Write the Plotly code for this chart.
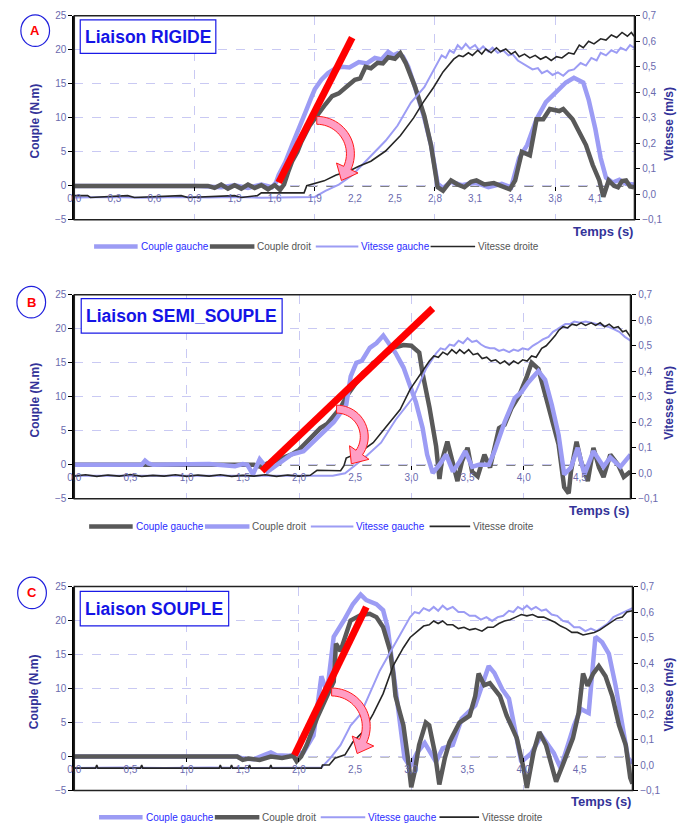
import numpy as np
import plotly.graph_objects as go

W, H = 678, 833
FONT = "Liberation Sans, Arial, sans-serif"
LB = "#9c9cf4"      # light blue (periwinkle)
DG = "#595959"      # dark grey thick
BK = "#262626"      # thin black
TICK = "#6a6aae"
TITLE = "#333399"
GRID = "#c9c9f3"
BLUE_TXT = "#2b2bff"
GREY_TXT = "#555555"

# ---------------- DATA ----------------
# Panel A : Liaison RIGIDE
tA_cg = [0, 0.3, 0.6, 0.9, 1.1, 1.2, 1.3, 1.4, 1.48, 1.51, 1.53, 1.58, 1.63, 1.68, 1.73, 1.77, 1.80, 1.85, 1.90,
         1.95, 2.0, 2.06, 2.13, 2.19, 2.25, 2.30, 2.35, 2.39, 2.42, 2.46, 2.50, 2.55, 2.62, 2.67, 2.72, 2.76, 2.82,
         2.9, 3.0, 3.1, 3.2, 3.27, 3.33, 3.39, 3.46, 3.53, 3.61, 3.68, 3.74, 3.81, 3.85, 3.90, 3.94, 3.98, 4.03,
         4.08, 4.13, 4.19]
vA_cg = [0, 0, 0, 0, -0.2, 0.1, -0.3, 0.2, -0.2, 0.5, 1.6, 3.5, 6.0, 8.2, 10.8, 12.8, 14.2, 15.6, 16.6,
         17.2, 17.5, 17.4, 18.2, 18.0, 18.8, 18.6, 19.7, 19.2, 19.5, 19.0, 17.5, 14.5, 10.0, 6.0, 0.3, -0.3, 0.6,
         0.1, 0.5, -0.2, 0.3, -0.2, 4.1, 6.0, 9.8, 12.3, 13.8, 15.2, 15.9, 15.2, 12.7, 8.4, 4.1, 1.2, 0.5,
         0.9, 0.3, 0.2]
tA_cd = [0, 0.2, 0.4, 0.6, 0.8, 1.0, 1.05, 1.1, 1.15, 1.2, 1.25, 1.3, 1.35, 1.4, 1.45, 1.5, 1.54, 1.57, 1.60,
         1.63, 1.67, 1.70, 1.76, 1.83, 1.88, 1.93, 1.98, 2.04, 2.10, 2.14, 2.18, 2.22, 2.27, 2.31, 2.35, 2.40,
         2.44, 2.48, 2.55, 2.62, 2.67, 2.72, 2.76, 2.82, 2.87, 2.92, 2.97, 3.01, 3.07, 3.14, 3.20, 3.26, 3.30,
         3.35, 3.41, 3.46, 3.51, 3.56, 3.63, 3.66, 3.73, 3.77, 3.83, 3.88, 3.93, 3.96, 4.00, 4.04, 4.07, 4.10,
         4.13, 4.16, 4.19]
vA_cd = [0, 0, 0, 0, 0, 0, -0.3, 0.2, -0.4, 0.1, -0.4, 0.2, -0.3, 0.1, -0.5, 0.1, -0.6, 0.2, 2.0,
         3.6, 5.0, 6.5, 8.8, 10.8, 12.0, 13.2, 13.6, 14.6, 15.6, 15.8, 17.5, 17.3, 18.1, 18.0, 18.9, 18.7,
         19.5, 18.1, 14.6, 10.3, 6.0, -0.2, -0.7, 0.8, 0.2, -0.2, 0.6, 0.8, 0.2, 0.4, -0.1, -0.5, 0.8,
         5.0, 4.5, 9.8, 9.8, 11.3, 11.0, 11.3, 9.8, 8.4, 6.0, 3.1, 0.8, -1.6, 0.8, 0.0, -0.2, 0.7,
         0.8, -0.1, -0.2]
tA_vg = [0, 0.3, 0.5, 0.8, 1.0, 1.2, 1.4, 1.6, 1.8, 1.88, 1.98, 2.08, 2.20, 2.33, 2.42, 2.52, 2.62,
         2.72, 2.75, 2.78, 2.81, 2.84, 2.87, 2.90, 2.93, 2.96, 3.00, 3.03, 3.06, 3.10, 3.13, 3.17, 3.21, 3.25,
         3.28, 3.32, 3.35, 3.39, 3.43, 3.47, 3.50, 3.54, 3.58, 3.62, 3.66, 3.70, 3.74, 3.79, 3.83, 3.87, 3.91,
         3.94, 3.98, 4.02, 4.06, 4.09, 4.13, 4.16, 4.19]
sA_vg = [-0.012, -0.01, -0.013, -0.01, -0.012, -0.01, -0.013, -0.012, -0.01, 0.014, 0.038, 0.075, 0.14, 0.21,
         0.27, 0.36, 0.42,
         0.52, 0.545, 0.535, 0.565, 0.555, 0.585, 0.57, 0.59, 0.572, 0.585, 0.565, 0.58, 0.56, 0.575, 0.555,
         0.565, 0.545, 0.55, 0.525, 0.515, 0.505, 0.49, 0.495, 0.475, 0.485, 0.468, 0.478, 0.465, 0.485, 0.49,
         0.515, 0.505, 0.535, 0.525, 0.555, 0.545, 0.565, 0.555, 0.575, 0.565, 0.585, 0.575]
tA_vd = [0, 0.1, 0.12, 0.4, 0.45, 0.8, 0.85, 1.2, 1.25, 1.37, 1.40, 1.72, 1.74, 1.87, 1.96, 2.05, 2.13, 2.22,
         2.33, 2.44, 2.54, 2.61, 2.69, 2.76,
         2.84, 2.88, 2.91, 2.95, 2.98, 3.02, 3.05, 3.08, 3.12, 3.16, 3.19, 3.23, 3.27, 3.30, 3.33, 3.37, 3.41,
         3.45, 3.49, 3.53, 3.57, 3.61, 3.65, 3.70, 3.74, 3.78, 3.81, 3.85, 3.89, 3.94, 3.98, 4.02, 4.06, 4.10,
         4.14, 4.17, 4.19]
sA_vd = [-0.005, -0.005, -0.012, -0.005, -0.012, -0.005, -0.012, -0.005, -0.012, -0.005, 0.006, 0.006, 0.034,
         0.053, 0.076, 0.09, 0.11, 0.13, 0.17, 0.23, 0.30, 0.36, 0.42, 0.48,
         0.53, 0.545, 0.54, 0.555, 0.545, 0.565, 0.55, 0.57, 0.555, 0.575, 0.56, 0.57, 0.55, 0.56, 0.54, 0.55,
         0.535, 0.545, 0.53, 0.54, 0.525, 0.54, 0.535, 0.555, 0.55, 0.585, 0.575, 0.6, 0.59, 0.61, 0.605, 0.625,
         0.615, 0.635, 0.62, 0.635, 0.62]
ticks_A = ["0,0", "0,3", "0,6", "0,9", "1,3", "1,6", "1,9", "2,2", "2,5", "2,8", "3,1", "3,4", "3,8", "4,1"]

# Panel B : Liaison SEMI_SOUPLE
tB_cg = [0, 0.5, 1.0, 1.5, 1.6, 1.66, 1.72, 1.78, 1.85, 1.93, 2.0, 2.07, 2.13, 2.19, 2.25, 2.31, 2.37, 2.42,
         2.48, 2.57, 2.62, 2.66, 2.71, 2.75, 2.80, 2.84, 2.93, 3.0, 3.07, 3.10, 3.16, 3.22, 3.25, 3.27, 3.32,
         3.36, 3.41, 3.45, 3.50, 3.54, 3.59, 3.65, 3.70, 3.78, 3.83, 3.89, 3.96, 4.03, 4.07, 4.13, 4.19, 4.25,
         4.31, 4.36, 4.40, 4.42, 4.47, 4.51, 4.57, 4.62, 4.67, 4.71, 4.77, 4.84, 4.89, 4.95]
vB_cg = [0, 0, 0, 0, 0, -0.3, 0.2, 0.5, 0.9, 1.5, 2.2, 3.4, 4.2, 5.4, 6.0, 7.3, 8.4, 10.0,
         11.5, 13.5, 14.0, 15.0, 15.3, 16.0, 16.6, 17.2, 17.6, 17.5, 16.5, 13.4, 8.5, 2.7, -2.1, 0.5, 3.4,
         0.5, -2.4, 0.5, 2.5, -1.0, -1.7, 1.5, -0.4, 5.4, 5.9, 8.3, 10.2, 13.1, 15.0, 14.1, 10.2, 6.9,
         3.0, -3.3, -4.2, -1.0, 3.4, 0.5, -2.4, 2.5, -0.4, -1.8, 1.5, 0.0, -1.8, -1.0]
tB_cd = [0, 0.3, 0.6, 0.63, 0.66, 0.7, 1.0, 1.2, 1.43, 1.50, 1.54, 1.59, 1.65, 1.69, 1.72, 1.81, 1.93, 2.04,
         2.16, 2.31, 2.42, 2.46, 2.51, 2.56, 2.63, 2.69, 2.75, 2.81, 2.86, 2.93, 2.99, 3.04, 3.10, 3.14, 3.19,
         3.25, 3.31, 3.37, 3.43, 3.48, 3.54, 3.60, 3.69, 3.74, 3.83, 3.92, 3.98, 4.04, 4.13, 4.19, 4.25, 4.31,
         4.36, 4.42, 4.48, 4.54, 4.62, 4.71, 4.77, 4.86, 4.95]
vB_cd = [0, 0, 0, 0.6, 0.2, 0, 0, 0.1, -0.2, 0.1, 0, -1.4, 0.8, 0, -1.0, 0, 1.5, 2.0,
         4.0, 6.3, 8.8, 13.0, 15.0, 15.3, 17.2, 17.9, 19.0, 17.5, 16.4, 14.3, 11.6, 9.2, 5.4, 1.5, -1.2,
         0, 1.5, -1.0, 0.5, 2.0, -0.3, 0, 0, 2.0, 6.3, 9.8, 10.7, 12.1, 13.8, 12.5, 8.8, 4.4,
         -1.4, -0.4, 2.5, -1.4, 2.0, -0.3, 1.1, -0.3, 1.5]
tB_vg = [0, 0.5, 1.0, 1.5, 2.0, 2.3, 2.41, 2.50, 2.58, 2.73, 2.86, 3.02, 3.13,
         3.22, 3.26, 3.30, 3.34, 3.38, 3.42, 3.46, 3.50, 3.54, 3.58, 3.62, 3.66, 3.70, 3.74, 3.78, 3.82, 3.87,
         3.91, 3.95, 3.99, 4.04, 4.08, 4.12, 4.17, 4.22, 4.26, 4.30, 4.33, 4.37, 4.41, 4.45, 4.50, 4.55, 4.60,
         4.65, 4.70, 4.75, 4.80, 4.85, 4.90, 4.95]
sB_vg = [-0.01, -0.01, -0.01, -0.01, -0.01, -0.01, 0.0, 0.03, 0.06, 0.12, 0.21, 0.30, 0.41,
         0.47, 0.49, 0.485, 0.505, 0.5, 0.52, 0.51, 0.53, 0.515, 0.52, 0.505, 0.495, 0.49, 0.49, 0.48, 0.485,
         0.475, 0.485, 0.48, 0.49, 0.485, 0.5, 0.51, 0.525, 0.535, 0.555, 0.565, 0.575, 0.585, 0.585, 0.595,
         0.59, 0.595, 0.59, 0.585, 0.58, 0.575, 0.565, 0.555, 0.535, 0.52]
tB_vd = [0, 0.1, 0.2, 0.3, 0.4, 0.5, 0.6, 0.7, 0.8, 0.9, 1.0, 1.1, 1.2, 1.3, 1.4, 1.5, 1.6, 1.7, 1.8, 1.9, 2.0,
         2.1, 2.16, 2.37, 2.40, 2.42, 2.55, 2.66, 2.77, 2.90, 2.99, 3.08,
         3.16, 3.20, 3.24, 3.28, 3.32, 3.36, 3.40, 3.43, 3.47, 3.51, 3.55, 3.59, 3.63, 3.67, 3.71, 3.75, 3.79,
         3.83, 3.87, 3.91, 3.95, 3.99, 4.03, 4.07, 4.11, 4.16, 4.20, 4.24, 4.28, 4.31, 4.35, 4.39, 4.43, 4.47,
         4.51, 4.55, 4.60, 4.64, 4.68, 4.72, 4.76, 4.80, 4.84, 4.88, 4.91, 4.95]
sB_vd = [-0.011, -0.006, -0.012, -0.007, -0.011, -0.005, -0.012, -0.008, -0.011, -0.006, -0.012, -0.007,
         -0.011, -0.006, -0.012, -0.008, -0.011, -0.006, -0.012, -0.007, -0.011, -0.008, 0.012, 0.010, 0.03,
         0.06, 0.085, 0.12, 0.18, 0.25, 0.33, 0.39,
         0.44, 0.46, 0.455, 0.475, 0.465, 0.485, 0.47, 0.485, 0.47, 0.485, 0.465, 0.47, 0.45, 0.455, 0.44,
         0.445, 0.43, 0.44, 0.425, 0.44, 0.43, 0.445, 0.44, 0.46, 0.455, 0.49, 0.5, 0.52, 0.54, 0.56, 0.575,
         0.57, 0.585, 0.58, 0.59, 0.58, 0.59, 0.58, 0.59, 0.575, 0.585, 0.57, 0.575, 0.555, 0.56, 0.535]
ticks_BC = ["0,0", "0,5", "1,0", "1,5", "2,0", "2,5", "3,0", "3,5", "4,0", "4,5"]

# Panel C : Liaison SOUPLE
tC_cg = [0, 0.5, 1.0, 1.45, 1.5, 1.6, 1.7, 1.75, 1.8, 1.9, 1.97, 2.04, 2.13, 2.20, 2.25, 2.31, 2.40, 2.48,
         2.55, 2.60, 2.69, 2.75, 2.79, 2.82, 2.85, 2.90, 2.94, 2.99, 3.05, 3.12, 3.18, 3.22, 3.28, 3.37, 3.45,
         3.57, 3.63, 3.69, 3.74, 3.81, 3.87, 3.92, 3.98, 4.07, 4.16, 4.27, 4.33, 4.45, 4.51, 4.58, 4.62, 4.64,
         4.70, 4.76, 4.82, 4.88, 4.93, 4.97]
vC_cg = [0, 0, 0, 0, -0.3, -0.4, 0.3, 0.6, 0.2, 0.1, 0.3, 0.6, 3.1, 11.8, 9.4, 17.6, 20.0, 22.4,
         23.8, 23.0, 22.4, 21.5, 19.0, 15.1, 10.4, 4.6, -0.2, -1.5, 0.5, 2.0, 0.5, -0.8, 1.2, 1.7, 5.6,
         7.5, 10.4, 13.3, 12.3, 9.9, 8.5, 4.1, -0.8, 0.5, 3.1, 0.5, -1.7, 4.6, 7.0, 6.4, 15.1, 17.6,
         16.8, 15.1, 10.4, 4.6, -0.2, -1.0]
tC_cd = [0, 0.5, 1.0, 1.45, 1.5, 1.55, 1.65, 1.75, 1.85, 1.95, 1.98, 2.02, 2.07, 2.16, 2.25, 2.31, 2.33, 2.37,
         2.46, 2.55, 2.63, 2.69, 2.75, 2.81, 2.84, 2.86, 2.90, 2.93, 2.97, 3.0, 3.03, 3.07, 3.13, 3.16, 3.21,
         3.25, 3.30, 3.34, 3.37, 3.43, 3.52, 3.57, 3.60, 3.65, 3.70, 3.79, 3.85, 3.94, 4.0, 4.03, 4.09, 4.14,
         4.20, 4.29, 4.35, 4.44, 4.49, 4.53, 4.57, 4.62, 4.67, 4.73, 4.79, 4.85, 4.91, 4.95, 4.97]
vC_cd = [0, 0, 0, 0, -0.5, -0.3, -0.5, 0, -0.2, 0.1, -0.7, 0, 1.7, 5.6, 8.9, 11.0, 16.6, 15.5,
         20.0, 20.8, 21.0, 20.5, 19.0, 15.7, 12.2, 8.9, 6.4, 4.6, -0.2, -4.5, -2.3, 1.7, 5.0, 4.6, 0.6,
         -4.1, -0.2, 2.1, 3.1, 5.0, 6.0, 8.9, 12.2, 10.5, 10.8, 8.9, 6.0, 2.7, -1.7, -4.6, 0.7, 3.6,
         1.7, -3.7, -1.2, 2.7, 6.4, 12.2, 10.4, 12.2, 13.3, 11.8, 8.9, 4.6, 1.7, -3.1, -4.0]
tC_vg = [0, 0.4, 0.8, 1.2, 1.6, 2.0, 2.20, 2.28, 2.37, 2.46, 2.55, 2.63, 2.72, 2.81, 2.90,
         2.99, 3.03, 3.07, 3.11, 3.16, 3.20, 3.24, 3.28, 3.32, 3.37, 3.42, 3.47, 3.52, 3.57, 3.62, 3.67, 3.72,
         3.77, 3.82, 3.87, 3.91, 3.95, 3.99, 4.03, 4.07, 4.11, 4.16, 4.20, 4.25, 4.30, 4.35, 4.40, 4.45, 4.50,
         4.55, 4.60, 4.65, 4.70, 4.75, 4.80, 4.85, 4.90, 4.93, 4.97]
sC_vg = [-0.012, -0.01, -0.012, -0.01, -0.012, -0.01, -0.01, 0.027, 0.078, 0.155, 0.2, 0.28, 0.37, 0.44, 0.51,
         0.58, 0.6, 0.595, 0.615, 0.605, 0.62, 0.605, 0.625, 0.61, 0.62, 0.6, 0.6, 0.585, 0.585, 0.57, 0.58,
         0.565, 0.58, 0.585, 0.605, 0.6, 0.62, 0.61, 0.625, 0.61, 0.62, 0.605, 0.61, 0.59, 0.585, 0.565, 0.56,
         0.54, 0.54, 0.525, 0.535, 0.525, 0.54, 0.555, 0.58, 0.59, 0.6, 0.605, 0.615]
tC_vd = [0, 0.19, 0.2, 0.21, 0.59, 0.6, 0.61, 1.29, 1.3, 1.31, 1.39, 1.4, 1.41, 1.55, 1.56, 1.57, 1.74, 1.75,
         1.76, 2.20, 2.21, 2.27, 2.32, 2.41, 2.48, 2.57, 2.66, 2.75, 2.84, 2.93, 2.99,
         3.07, 3.11, 3.16, 3.20, 3.24, 3.28, 3.32, 3.37, 3.42, 3.47, 3.52, 3.57, 3.63, 3.68, 3.73, 3.78, 3.83,
         3.88, 3.93, 3.98, 4.03, 4.08, 4.13, 4.18, 4.23, 4.28, 4.33, 4.38, 4.43, 4.48, 4.53, 4.58, 4.63, 4.68,
         4.73, 4.78, 4.83, 4.88, 4.92, 4.97]
sC_vd = [-0.012, -0.012, 0.0, -0.012, -0.012, 0.0, -0.012, -0.012, 0.0, -0.012, -0.012, 0.0, -0.012, -0.012,
         0.0, -0.012, -0.012, 0.0, -0.012, -0.012, 0.0, 0.0, 0.027, 0.04, 0.09, 0.13, 0.2, 0.28, 0.39, 0.46,
         0.5,
         0.53, 0.545, 0.55, 0.565, 0.555, 0.565, 0.55, 0.55, 0.535, 0.54, 0.53, 0.535, 0.525, 0.54, 0.54, 0.555,
         0.565, 0.57, 0.58, 0.59, 0.585, 0.59, 0.58, 0.58, 0.57, 0.56, 0.545, 0.535, 0.52, 0.52, 0.51, 0.515,
         0.52, 0.53, 0.545, 0.56, 0.575, 0.58, 0.6, 0.605]

# ---------------- helpers ----------------
def fx(x):
    return x / W


def fy(y):
    return 1 - y / H


panels = [
    dict(key="A", title="Liaison RIGIDE", xs="", ys="", ys2="2",
         left=68, right=634, top=10, bot=217, xmax=4.193,
         tickvals=[0.3 * i for i in range(14)], ticktext=ticks_A, grid=[0.9, 1.8, 2.7, 3.6],
         box=(74, 14, 211, 48), circ=(28.5, 25), legy=244, temps=229,
         leg=[(88, 132), (205, 250), (312, 355), (428, 473)],
         red=((1.53, 0.5), (2.08, 21.8)), arrow=(313, 150, 34, 25),
         series=[("Couple gauche", tA_cg, vA_cg, False, LB, 4.5, BLUE_TXT),
                 ("Couple droit", tA_cd, vA_cd, False, DG, 4.5, GREY_TXT),
                 ("Vitesse gauche", tA_vg, sA_vg, True, LB, 2.0, BLUE_TXT),
                 ("Vitesse droite", tA_vd, sA_vd, True, BK, 1.6, GREY_TXT)]),
    dict(key="B", title="Liaison SEMI_SOUPLE", xs="2", ys="3", ys2="4",
         left=68, right=630, top=293, bot=500, xmax=4.95,
         tickvals=[0.5 * i for i in range(10)], ticktext=ticks_BC, grid=[1, 2, 3, 4],
         box=(75, 297, 278, 332), circ=(24.5, 300.5), legy=528, temps=512,
         leg=[(83, 127), (200, 245), (307, 350), (427, 468)],
         red=((1.67, -0.9), (3.19, 23.0)), arrow=(333, 437, 28, 35),
         series=[("Couple gauche", tB_cg, vB_cg, False, DG, 4.5, BLUE_TXT),
                 ("Couple droit", tB_cd, vB_cd, False, LB, 4.5, GREY_TXT),
                 ("Vitesse gauche", tB_vg, sB_vg, True, LB, 2.0, BLUE_TXT),
                 ("Vitesse droite", tB_vd, sB_vd, True, BK, 1.6, GREY_TXT)]),
    dict(key="C", title="Liaison SOUPLE", xs="3", ys="5", ys2="6",
         left=68, right=632, top=589, bot=796, xmax=4.97,
         tickvals=[0.5 * i for i in range(10)], ticktext=ticks_BC, grid=[1, 2, 3, 4],
         box=(74, 594, 224, 629), circ=(25.3, 595.5), legy=823, temps=807,
         leg=[(93, 137), (210, 255), (317, 362), (437, 477)],
         red=((1.96, 0.2), (2.60, 22.0)), arrow=(328, 731, 35, 25),
         series=[("Couple gauche", tC_cg, vC_cg, False, LB, 4.5, BLUE_TXT),
                 ("Couple droit", tC_cd, vC_cd, False, DG, 4.5, GREY_TXT),
                 ("Vitesse gauche", tC_vg, sC_vg, True, LB, 2.0, BLUE_TXT),
                 ("Vitesse droite", tC_vd, sC_vd, True, BK, 1.6, GREY_TXT)]),
]


def arrow_path(cx, cy, rm, a1, half=4.0, head_len=14.0, head_half=12.0, a0=-90.0):
    angs = np.radians(np.linspace(a0, a1, 24))
    outer = [(cx + (rm + half) * np.cos(a), cy + (rm + half) * np.sin(a)) for a in angs]
    inner = [(cx + (rm - half) * np.cos(a), cy + (rm - half) * np.sin(a)) for a in angs[::-1]]
    ae = angs[-1]
    tx, ty = -np.sin(ae), np.cos(ae)
    mx, my = cx + rm * np.cos(ae), cy + rm * np.sin(ae)
    head = [(cx + (rm + head_half) * np.cos(ae), cy + (rm + head_half) * np.sin(ae)),
            (mx + head_len * tx, my + head_len * ty),
            (cx + (rm - head_half) * np.cos(ae), cy + (rm - head_half) * np.sin(ae))]
    pts = outer + head + inner
    return "M " + " L ".join(f"{fx(x):.5f},{fy(y):.5f}" for x, y in pts) + " Z"


fig = go.Figure()
layout = dict(width=W, height=H, margin=dict(l=0, r=0, t=0, b=0), paper_bgcolor="white",
              plot_bgcolor="rgba(0,0,0,0)", separators=", ", showlegend=False,
              font=dict(family=FONT, size=10, color=TICK))
shapes, annotations = [], []

for p in panels:
    xn, yn, y2n = "x" + p["xs"], "y" + p["ys"], "y" + p["ys2"]
    ydom = [fy(p["bot"]), fy(p["top"])]
    zero_pos = ydom[0] + (ydom[1] - ydom[0]) * 5 / 30
    layout["xaxis" + p["xs"]] = dict(
        domain=[fx(p["left"]), fx(p["right"])], range=[0, p["xmax"]], anchor="free", position=zero_pos,
        tickmode="array", tickvals=p["tickvals"], ticktext=p["ticktext"], ticks="", showgrid=False,
        zeroline=False, showline=False, ticklabelstandoff=5,
        tickfont=dict(size=10, color=TICK, family=FONT),
        minor=dict(tickmode="array", tickvals=p["grid"], showgrid=True, gridcolor=GRID, griddash="dash",
                   gridwidth=1, ticks="outside", ticklen=4, tickcolor="black"))
    layout["yaxis" + p["ys"]] = dict(
        domain=ydom, range=[-5, 25], anchor=xn, tickmode="linear", tick0=-5, dtick=5, ticks="outside",
        ticklen=4, tickcolor="black", showline=True, linecolor="black", linewidth=2, showgrid=True,
        gridcolor=GRID, griddash="dash", zeroline=False, tickfont=dict(size=10, color=TICK, family=FONT))
    layout["yaxis" + p["ys2"]] = dict(
        overlaying=yn, side="right", anchor=xn, range=[-0.1, 0.7], tickmode="linear", tick0=0, dtick=0.1,
        tickformat=".1f", ticks="outside", ticklen=4, tickcolor="black", showline=True, linecolor="black",
        linewidth=1.5, showgrid=False, zeroline=False, tickfont=dict(size=10, color=TICK, family=FONT))

    for name, t, v, sec, col, wdt, tcol in p["series"]:
        fig.add_trace(go.Scatter(x=t, y=v, mode="lines", name=name, xaxis=xn,
                                 yaxis=y2n if sec else yn,
                                 line=dict(color=col, width=wdt), hoverinfo="skip"))

    # legend drawn below the plot (line sample + coloured label)
    for (lx0, lx1), (name, t, v, sec, col, wdt, tcol) in zip(p["leg"], p["series"]):
        shapes.append(dict(type="line", xref="paper", yref="paper", x0=fx(lx0), x1=fx(lx1),
                           y0=fy(p["legy"]), y1=fy(p["legy"]), line=dict(color=col, width=wdt)))
        annotations.append(dict(xref="paper", yref="paper", x=fx(lx1 + 1), y=fy(p["legy"]), text=name,
                                showarrow=False, xanchor="left", yanchor="middle",
                                font=dict(size=10, color=tcol, family=FONT)))

    # dashed zero line
    shapes.append(dict(type="line", xref=f"{xn} domain", yref=yn, x0=0, x1=1, y0=0, y1=0,
                       line=dict(color="black", width=1.2, dash="dash"), layer="below"))
    # frame
    shapes.append(dict(type="rect", xref=f"{xn} domain", yref=f"{yn} domain", x0=0, x1=1, y0=0, y1=1,
                       line=dict(color="#222222", width=1.5), layer="above"))
    # red trend line
    (x0, y0), (x1, y1) = p["red"]
    shapes.append(dict(type="line", xref=xn, yref=yn, x0=x0, y0=y0, x1=x1, y1=y1,
                       line=dict(color="#ff0000", width=7), layer="above"))
    # pink curved arrow
    cx, cy, rm, a1 = p["arrow"]
    shapes.append(dict(type="path", xref="paper", yref="paper", path=arrow_path(cx, cy, rm, a1),
                       fillcolor="#ff9ec4", line=dict(color="#ff1a1a", width=1), layer="above"))
    # title box
    bx0, by0, bx1, by1 = p["box"]
    shapes.append(dict(type="rect", xref="paper", yref="paper", x0=fx(bx0), x1=fx(bx1), y0=fy(by1), y1=fy(by0),
                       fillcolor="white", line=dict(color="#1a1ae6", width=1.2), layer="above"))
    annotations.append(dict(xref="paper", yref="paper", x=fx((bx0 + bx1) / 2), y=fy((by0 + by1) / 2),
                            text=f"<b>{p['title']}</b>", showarrow=False, xanchor="center", yanchor="middle",
                            font=dict(size=17.5, color="#1414e6", family=FONT)))
    # circle label
    ccx, ccy = p["circ"]
    shapes.append(dict(type="circle", xref="paper", yref="paper", x0=fx(ccx - 14.5), x1=fx(ccx + 14.5),
                       y0=fy(ccy + 16), y1=fy(ccy - 16), line=dict(color="#2020dd", width=1.2)))
    annotations.append(dict(xref="paper", yref="paper", x=fx(ccx), y=fy(ccy), text=f"<b>{p['key']}</b>",
                            showarrow=False, xanchor="center", yanchor="middle",
                            font=dict(size=13, color="#ff0000", family=FONT)))
    # axis titles
    mid = (p["top"] + p["bot"]) / 2 + 3
    annotations.append(dict(xref="paper", yref="paper", x=fx(28), y=fy(mid), text="<b>Couple (N.m)</b>",
                            textangle=-90, showarrow=False, xanchor="center", yanchor="middle",
                            font=dict(size=12, color=TITLE, family=FONT)))
    annotations.append(dict(xref="paper", yref="paper", x=fx(669), y=fy(mid + 3), text="<b>Vitesse (m/s)</b>",
                            textangle=-90, showarrow=False, xanchor="center", yanchor="middle",
                            font=dict(size=12, color=TITLE, family=FONT)))
    annotations.append(dict(xref="paper", yref="paper", x=fx(p["right"] + 1), y=fy(p["temps"]),
                            text="<b>Temps (s)</b>", showarrow=False, xanchor="right", yanchor="middle",
                            font=dict(size=13, color=TITLE, family=FONT)))

layout["shapes"] = shapes
layout["annotations"] = annotations
fig.update_layout(**layout)
fig.write_html("out.html", config={"displayModeBar": False},
               post_script="document.body.style.margin='0';document.body.style.padding='0';"
                           "document.documentElement.style.overflow='hidden';")
